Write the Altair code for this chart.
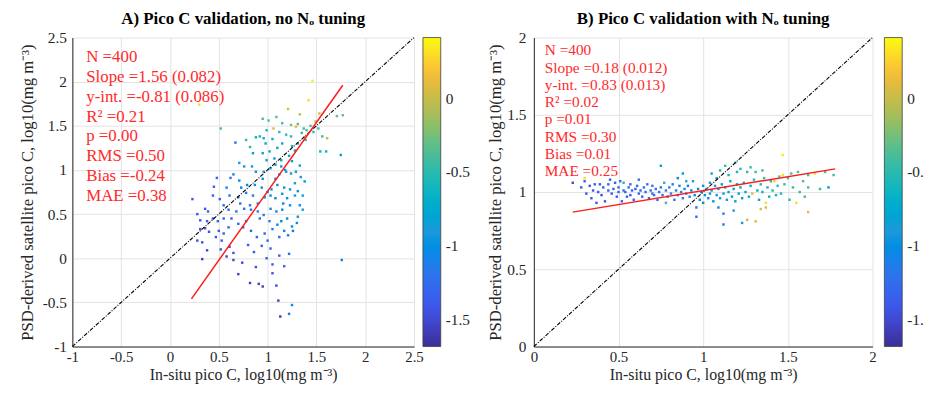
import altair as alt
import pandas as pd

FONT = "Liberation Serif"
TXT = "#262626"

# ---------------- Panel A: no N_o tuning ----------------
A_x = [1.46, 0.30, 1.42, 1.21, 1.33, 1.53, 1.71, 1.77, 1.09, 1.15,
       1.24, 1.29, 1.31, 1.37, 1.47, 1.52, 1.61, 1.56, 1.54, 1.60,
       1.75, 0.52, 0.95, 1.01, 0.99, 1.06, 1.12, 1.19, 1.24, 1.38,
       0.88, 0.92, 0.96, 0.78, 0.82, 0.67, 0.85, 0.95, 1.02, 0.99,
       1.07, 1.14, 1.22, 1.25, 1.31, 1.39, 0.71, 0.76, 0.84, 0.88,
       0.96, 1.03, 1.08, 1.14, 1.19, 1.24, 1.29, 1.34, 1.38, 0.65,
       0.62, 0.71, 0.79, 0.87, 0.94, 1.04, 1.10, 1.17, 1.23, 1.31,
       0.48, 0.45, 0.44, 0.51, 0.61, 0.70, 0.78, 0.85, 0.97, 1.03,
       1.15, 1.20, 1.28, 1.36, 0.23, 0.28, 0.36, 0.39, 0.31, 0.36,
       0.31, 0.28, 0.33, 0.38, 0.33, 0.44, 0.49, 0.50, 0.47, 0.53,
       0.55, 0.60, 0.63, 0.68, 0.70, 0.75, 0.78, 0.83, 0.65, 0.61,
       0.58, 0.65, 0.74, 0.70, 0.82, 0.91, 0.95, 1.09, 1.11, 1.13,
       1.25, 1.22, 1.17, 1.05, 0.99, 0.86, 0.94, 1.03, 0.89, 0.97,
       1.05, 1.10, 1.14, 1.17, 1.21, 1.12, 1.25, 1.26, 1.31, 1.36,
       1.33, 1.23, 1.16, 1.09, 1.03, 0.96, 0.90, 0.83, 0.76, 1.76,
       1.22, 1.12, 1.05, 0.90, 0.95, 1.00, 1.08, 1.12, 1.18, 1.15,
       1.20, 1.02, 0.92, 0.82, 0.72, 0.60, 0.55, 0.40, 0.52, 0.80,
       0.88, 1.00, 1.30, 1.28, 1.33, 1.10, 1.25, 0.98, 1.05, 1.15,
       1.28, 1.40, 1.44, 1.35, 1.49, 1.08, 0.73, 0.58, 0.55, 0.38]
A_y = [2.01, 1.74, 1.79, 1.69, 1.63, 1.64, 1.61, 1.62, 1.60, 1.53,
       1.51, 1.49, 1.52, 1.47, 1.43, 1.47, 1.36, 1.38, 1.21, 1.21,
       1.17, 1.47, 1.58, 1.56, 1.45, 1.47, 1.43, 1.40, 1.38, 1.37,
       1.37, 1.38, 1.36, 1.34, 1.26, 1.31, 1.19, 1.19, 1.21, 1.11,
       1.13, 1.11, 1.16, 1.27, 1.30, 1.34, 1.08, 1.04, 1.04, 0.98,
       0.98, 1.02, 1.06, 1.04, 0.98, 0.96, 0.98, 0.92, 0.87, 0.95,
       0.91, 0.88, 0.83, 0.83, 0.80, 0.78, 0.83, 0.80, 0.78, 0.76,
       0.91, 0.81, 0.71, 0.67, 0.71, 0.69, 0.74, 0.71, 0.69, 0.71,
       0.73, 0.68, 0.71, 0.71, 0.67, 0.50, 0.56, 0.53, 0.43, 0.34,
       0.33, 0.20, 0.18, 0.09, -0.01, 0.45, 0.42, 0.31, 0.24, 0.20,
       0.28, 0.35, 0.45, 0.53, 0.39, 0.35, 0.42, 0.31, 0.06, 0.13,
       0.02, -0.02, -0.05, -0.18, -0.28, -0.29, -0.32, -0.31, -0.48, -0.66,
       -0.53, -0.63, -0.09, -0.07, 0.00, 0.07, 0.14, 0.11, 0.24, 0.28,
       0.33, 0.38, 0.42, 0.31, 0.26, 0.24, 0.36, 0.31, 0.47, 0.55,
       0.60, 0.60, 0.62, 0.53, 0.56, 0.49, 0.53, 0.55, 0.56, -0.02,
       0.05, 0.03, -0.17, 0.62, 0.90, 0.75, 0.90, 0.95, 1.00, 0.55,
       0.45, 0.42, 0.45, 0.60, 0.62, 0.55, 0.60, 0.30, 0.10, 0.15,
       -0.10, 0.20, 0.40, 0.85, 1.05, 1.25, 1.10, 1.30, 1.35, 1.30,
       1.22, 1.45, 1.50, 1.42, 1.55, 0.68, 0.80, 0.80, 0.45, 0.42]
A_c = [0.38, 0.30, 0.30, 0.05, 0.00, 0.10, -0.30, -0.30, -0.35, -0.40,
       -0.25, 0.15, -0.35, -0.40, -0.45, -0.40, 0.00, -0.40, -0.65, -0.65,
       -0.80, -0.40, -0.40, -0.35, -0.55, 0.05, -0.45, -0.45, -0.50, 0.05,
       -0.65, -0.60, -0.65, -0.45, -0.50, -1.20, -0.80, -0.75, -0.70, -0.85,
       -0.80, -0.80, -0.75, -0.60, -0.60, -0.45, -0.90, -0.90, -0.90, -0.95,
       -0.90, -0.85, -0.85, -0.85, -0.90, -0.90, -0.85, -0.90, -0.95, -1.15,
       -1.20, -1.00, -1.05, -1.00, -1.00, -0.95, -0.95, -0.95, -0.95, -0.95,
       -1.25, -1.30, -1.35, -1.30, -1.25, -1.20, -1.10, -1.10, -1.05, -1.00,
       -0.95, -0.95, -0.90, -0.90, -1.40, -1.40, -1.35, -1.35, -1.40, -1.45,
       -1.45, -1.45, -1.45, -1.50, -1.55, -1.35, -1.35, -1.40, -1.40, -1.40,
       -1.40, -1.35, -1.30, -1.25, -1.30, -1.35, -1.30, -1.35, -1.45, -1.45,
       -1.50, -1.50, -1.50, -1.55, -1.55, -1.55, -1.55, -1.50, -1.55, -1.60,
       -1.00, -1.20, -1.30, -1.35, -1.35, -1.40, -1.35, -1.35, -1.30, -1.30,
       -1.20, -1.00, -1.00, -1.20, -1.20, -1.25, -1.00, -1.05, -0.95, -0.90,
       -0.95, -1.00, -1.00, -1.05, -1.10, -1.15, -1.15, -1.20, -1.20, -1.05,
       -1.30, -1.35, -1.45, -1.10, -0.95, -1.00, -0.95, -0.90, -0.90, -1.00,
       -1.00, -1.15, -1.20, -1.20, -1.25, -1.30, -1.30, -1.45, -1.45, -1.40,
       -1.45, -1.30, -1.10, -0.90, -0.85, -0.75, -0.80, -0.70, -0.65, -0.70,
       -0.75, -0.40, -0.35, -0.45, 0.05, -1.05, -1.05, -1.15, -1.35, -1.40]

# ---------------- Panel B: with N_o tuning ----------------
B_x = [0.23, 0.28, 0.30, 0.30, 0.31, 0.33, 0.34, 0.35, 0.36, 0.37,
       0.38, 0.39, 0.40, 0.41, 0.42, 0.44, 0.44, 0.45, 0.46, 0.47,
       0.48, 0.49, 0.50, 0.50, 0.51, 0.52, 0.53, 0.53, 0.54, 0.55,
       0.56, 0.57, 0.57, 0.58, 0.59, 0.60, 0.61, 0.62, 0.62, 0.63,
       0.64, 0.65, 0.66, 0.67, 0.68, 0.69, 0.70, 0.70, 0.71, 0.72,
       0.73, 0.74, 0.75, 0.75, 0.76, 0.77, 0.78, 0.78, 0.79, 0.80,
       0.81, 0.82, 0.83, 0.84, 0.85, 0.86, 0.87, 0.88, 0.89, 0.90,
       0.90, 0.91, 0.92, 0.93, 0.94, 0.95, 0.96, 0.96, 0.97, 0.98,
       0.99, 1.00, 1.00, 1.01, 1.02, 1.03, 1.04, 1.04, 1.05, 1.06,
       1.07, 1.08, 1.09, 1.09, 1.10, 1.11, 1.12, 1.12, 1.12, 1.13,
       1.13, 1.14, 1.15, 1.16, 1.17, 1.18, 1.18, 1.19, 1.19, 1.20,
       1.21, 1.22, 1.23, 1.23, 1.24, 1.25, 1.26, 1.26, 1.27, 1.28,
       1.29, 1.30, 1.31, 1.31, 1.32, 1.33, 1.34, 1.34, 1.35, 1.36,
       1.37, 1.37, 1.38, 1.39, 1.40, 1.41, 1.42, 1.43, 1.44, 1.45,
       1.46, 1.47, 1.47, 1.48, 1.50, 1.51, 1.52, 1.53, 1.55, 1.56,
       1.57, 1.59, 1.60, 1.62, 1.62, 1.62, 1.66, 1.69, 1.72, 1.74,
       1.77, 1.05, 1.10, 1.15, 1.20, 1.22, 1.28, 1.35, 1.08, 0.85, 0.88]
B_y = [1.06, 1.03, 1.09, 1.07, 0.99, 1.04, 0.96, 1.01, 1.05, 0.93,
       1.00, 1.05, 0.98, 1.03, 0.94, 1.01, 1.05, 1.08, 0.99, 1.02,
       1.06, 0.97, 1.03, 1.00, 1.07, 0.94, 1.06, 1.01, 1.00, 0.97,
       1.03, 0.98, 1.05, 1.01, 0.95, 1.02, 1.04, 0.99, 1.08, 1.01,
       0.97, 1.03, 1.00, 1.05, 0.96, 1.01, 0.99, 1.04, 0.98, 1.02,
       0.95, 1.00, 1.03, 1.17, 0.98, 1.06, 1.01, 0.93, 0.97, 1.03,
       0.99, 1.05, 0.95, 1.01, 0.98, 1.04, 1.00, 0.96, 1.02, 1.07,
       0.99, 1.04, 0.97, 1.01, 1.07, 0.98, 0.90, 0.84, 1.02, 0.95,
       1.00, 0.93, 1.04, 0.98, 1.02, 0.96, 1.06, 0.99, 1.01, 0.94,
       1.04, 0.98, 0.90, 1.02, 0.96, 1.05, 0.86, 0.79, 0.99, 1.17,
       1.03, 0.95, 1.00, 1.07, 0.97, 0.88, 1.02, 1.19, 0.94, 1.05,
       0.99, 1.03, 0.80, 0.96, 1.06, 1.00, 1.13, 0.82, 0.97, 1.04,
       0.99, 1.08, 1.13, 0.81, 1.01, 0.95, 1.05, 0.89, 1.00, 1.09,
       0.90, 0.93, 1.03, 0.97, 1.07, 1.01, 1.07, 0.98, 1.04, 1.10,
       0.99, 1.24, 1.11, 1.05, 1.09, 0.95, 1.12, 1.03, 0.93, 1.13,
       1.00, 1.07, 0.97, 1.11, 0.87, 1.03, 1.12, 1.02, 1.13, 1.03,
       1.11, 1.12, 1.14, 1.11, 1.13, 1.15, 1.16, 1.14, 1.09, 1.09, 1.12]
B_c = [-1.45, -1.40, 0.30, -1.35, -1.45, -1.40, -1.40, -1.40, -1.35, -1.45,
       -1.40, -1.40, -1.45, -1.35, -1.40, -1.35, -1.30, -1.35, -1.40, -1.35,
       -1.30, -1.40, -1.30, -1.35, -1.30, -1.35, -0.50, -1.30, -1.30, -1.35,
       -1.30, -1.35, -1.25, -1.30, -1.30, -1.30, -1.25, -1.30, -1.25, -1.30,
       -1.30, -1.25, -1.25, -1.20, -1.30, -1.25, -1.20, -1.20, -1.25, -1.20,
       -1.25, -1.20, -1.20, -0.85, -1.20, -0.50, -1.15, -0.45, -1.20, -1.15,
       -1.15, -1.10, -1.20, -1.10, -1.15, -1.10, -1.10, -1.15, -1.10, -0.60,
       -1.10, -1.05, -1.10, -1.05, -0.90, -1.05, -1.20, -1.25, -1.00, -1.05,
       -1.00, -1.00, -0.95, -0.95, -0.95, -0.95, -0.90, -0.95, -0.90, -0.95,
       -0.90, -0.90, -1.10, -0.85, -0.90, -0.85, -1.15, -1.20, -0.85, -0.45,
       -0.85, -0.90, -0.85, -0.70, -0.85, -0.90, -0.80, -0.45, -0.85, -0.80,
       -0.80, -0.75, -0.90, -0.80, -0.70, -0.75, -0.45, 0.05, -0.75, -0.70,
       0.10, -0.55, -0.45, 0.05, -0.70, -0.75, -0.60, 0.05, -0.65, -0.50,
       0.00, 0.30, -0.60, -0.65, -0.50, -0.55, 0.25, -0.60, -0.50, -0.35,
       -0.55, 0.35, 0.30, -0.45, -0.40, -0.50, -0.35, -0.45, 0.30, -0.40,
       -0.45, -0.35, -0.40, -0.40, 0.10, -0.40, 0.30, -0.45, -0.40, -0.95,
       -0.40, -0.70, -0.55, -0.60, -0.55, -0.50, -0.45, -0.45, -0.80, -1.05, -0.95]

# 1:1 lines and regression lines (end points)
DIAG_A = [-1.0, 2.5]
DIAG_B = [0.0, 2.0]
FIT_A_x = [0.22, 1.77]
FIT_A_y = [-0.46, 1.96]
FIT_B_x = [0.23, 1.78]
FIT_B_y = [0.87, 1.15]

STATS_A = ["N =400", "Slope =1.56 (0.082)", "y-int. =-0.81 (0.086)", "R\u00b2 =0.21",
           "p =0.00", "RMS =0.50", "Bias =-0.24", "MAE =0.38"]
STATS_B = ["N =400", "Slope =0.18 (0.012)", "y-int. =0.83 (0.013)", "R\u00b2 =0.02",
           "p =0.01", "RMS =0.30", "Bias =0.01", "MAE =0.25"]

TICKS_A = [-1, -0.5, 0, 0.5, 1, 1.5, 2, 2.5]
TICKS_B = [0, 0.5, 1, 1.5, 2]
CBAR_TICKS = [0, -0.5, -1, -1.5]

TITLE_A = "A) Pico C validation, no N\u2092 tuning"
TITLE_B = "B) Pico C validation with N\u2092 tuning"
XTITLE = "In-situ pico C, log10(mg m\u207b\u00b3)"
YTITLE = "PSD-derived satellite pico C, log10(mg m\u207b\u00b3)"

# colour limits of the colorbar and parula-like colours (bottom of colorbar first)
C_BOTTOM, C_TOP = -1.68, 0.415
C_RANGE = ["#3a2e98", "#3f55ec", "#2f78ec", "#1f9ada", "#14b4c4",
           "#4cbd98", "#a8bd5a", "#f4b83c", "#f9fb0e"]

FULL_LABEL = "'' + datum.value"
# the right colorbar's labels are cut by the right edge of the figure
CUT_LABEL = "substring('' + datum.value, 0, 3)"


def panel(px, py, pc, dom, ticks, diag, fx, fy, stats, title, width, height,
          text_size, line_h, text_dx, text_dy, cbar_gap, title_pad, label_pad,
          cbar_label_expr):
    pts = pd.DataFrame({"x": px, "y": py, "c": pc})
    diag_df = pd.DataFrame({"x": diag, "y": diag})
    fit_df = pd.DataFrame({"x": fx, "y": fy})
    txt_df = pd.DataFrame({"t": [stats]})

    n = len(C_RANGE)
    c_dom = [C_BOTTOM + i * (C_TOP - C_BOTTOM) / (n - 1) for i in range(n)]

    X = alt.X("x:Q", scale=alt.Scale(domain=dom, nice=False, zero=False),
              axis=alt.Axis(values=ticks, title=XTITLE, labelExpr="'' + datum.value",
                            titleFont=FONT, titleFontSize=16, titleFontWeight="normal",
                            titleColor=TXT, labelFont=FONT, labelFontSize=15,
                            labelColor=TXT, labelFlush=False, ticks=False,
                            labelPadding=3, titlePadding=2, gridColor="#e3e3e3",
                            domainColor=TXT))
    Y = alt.Y("y:Q", scale=alt.Scale(domain=dom, nice=False, zero=False),
              axis=alt.Axis(values=ticks, title=YTITLE, labelExpr="'' + datum.value",
                            titleFont=FONT, titleFontSize=16.8, titleFontWeight="normal",
                            titleColor=TXT, labelFont=FONT, labelFontSize=15.5,
                            labelColor=TXT, ticks=False, labelPadding=label_pad,
                            titlePadding=title_pad, gridColor="#e3e3e3",
                            domainColor=TXT))

    scatter = alt.Chart(pts).mark_square(size=6, opacity=1).encode(
        x=X, y=Y,
        color=alt.Color("c:Q", scale=alt.Scale(domain=c_dom, range=C_RANGE),
                        legend=alt.Legend(orient="none", legendX=width + cbar_gap,
                                          legendY=0, direction="vertical",
                                          gradientLength=height,
                                          gradientThickness=18, title=None,
                                          values=CBAR_TICKS,
                                          labelExpr=cbar_label_expr,
                                          labelFont=FONT, labelFontSize=15.5,
                                          labelColor=TXT, labelOffset=5,
                                          gradientStrokeColor="#404040",
                                          gradientStrokeWidth=0.8, padding=0)))
    diag_line = alt.Chart(diag_df).mark_line(color="black", strokeWidth=1.1,
                                             strokeDash=[4, 1.5, 1, 1.5]).encode(x=X, y=Y)
    fit_line = alt.Chart(fit_df).mark_line(color="#ff1a1a", strokeWidth=1.5).encode(x=X, y=Y)
    text = alt.Chart(txt_df).mark_text(align="left", baseline="top", font=FONT,
                                       fontSize=text_size, lineHeight=line_h,
                                       color="#ff2a2a").encode(
        text="t", x=alt.value(text_dx), y=alt.value(text_dy))

    return alt.layer(scatter, diag_line, fit_line, text).properties(
        width=width, height=height,
        title=alt.TitleParams(text=title, font=FONT, fontSize=17, fontWeight="bold",
                              anchor="middle", frame="group", offset=3, color="black"))


left = panel(A_x, A_y, A_c, [-1, 2.5], TICKS_A, DIAG_A, FIT_A_x, FIT_A_y, STATS_A,
             TITLE_A, 345, 312, 17, 20.1, 14, 11.5, 9, 6, 6, FULL_LABEL)
right = panel(B_x, B_y, B_c, [0, 2], TICKS_B, DIAG_B, FIT_B_x, FIT_B_y, STATS_B,
              TITLE_B, 342, 312, 15.5, 17.4, 11, 6, 12, 2, 8, CUT_LABEL)

chart = alt.hconcat(left, right, spacing=17).resolve_scale(
    color="independent").resolve_legend(color="independent").properties(
    padding={"left": 11, "top": 0, "right": 0, "bottom": 0},
    background="white").configure_view(stroke=None)

chart.save("out.html", embed_options={"renderer": "svg", "actions": False})
